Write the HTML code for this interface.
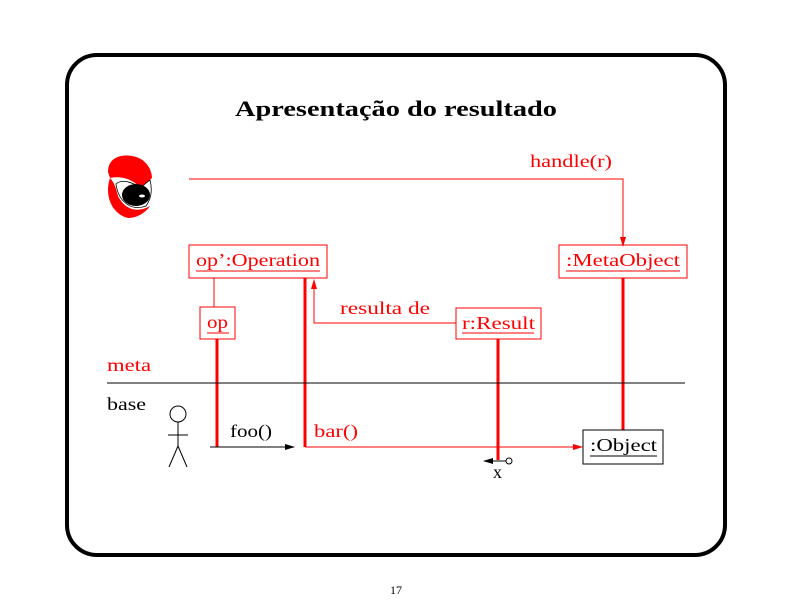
<!DOCTYPE html>
<html><head><style>html,body{margin:0;padding:0;background:#fff}svg{display:block}</style></head><body>
<svg width="792" height="612" viewBox="0 0 792 612" xmlns="http://www.w3.org/2000/svg" font-family="Liberation Serif, serif">
<defs>
<marker id="ar" markerWidth="10" markerHeight="6" refX="9" refY="3" orient="auto" markerUnits="userSpaceOnUse"><path d="M0,0L10,3L0,6z" fill="red"/></marker>
<marker id="ab" markerWidth="10" markerHeight="6" refX="9" refY="3" orient="auto" markerUnits="userSpaceOnUse"><path d="M0,0L10,3L0,6z" fill="#000"/></marker>
</defs>
<rect x="67" y="55" width="658" height="500" rx="30" fill="none" stroke="#000" stroke-width="4"/>
<text x="235" y="116" font-size="22" font-weight="bold" textLength="322" lengthAdjust="spacingAndGlyphs">Apresentação do resultado</text>
<!-- eye icon -->
<path d="M108,172 C108,158 120,154 132,156 C146,158 152,170 152,178 L140,188 C132,178 120,176 110,178 Z" fill="red"/>
<path d="M110,178 C104,196 112,214 128,218 C138,218 146,212 150,206 C140,212 126,212 118,196 C116,188 114,182 110,178Z" fill="red"/>
<path d="M116,184 C118,200 130,212 146,206 C152,198 152,188 150,180 L140,188 C130,180 120,180 116,184Z" fill="#fff" stroke="#000" stroke-width="0.8"/>
<ellipse cx="136" cy="195" rx="14" ry="11" fill="#000"/>
<ellipse cx="142" cy="196" rx="3" ry="1.5" fill="#fff"/>
<!-- handle -->
<text x="530" y="167" fill="red" font-size="18" textLength="82" lengthAdjust="spacingAndGlyphs">handle(r)</text>
<polyline points="189,179 623,179 623,246" fill="none" stroke="red" stroke-width="1" marker-end="url(#ar)"/>
<!-- boxes -->
<g fill="none" stroke="red" stroke-width="1">
<rect x="189" y="245" width="138" height="33"/>
<rect x="559" y="245" width="128" height="33"/>
<rect x="200" y="307" width="35" height="32"/>
<rect x="456" y="308" width="85" height="31"/>
<line x1="214" y1="278" x2="214" y2="307"/>
<polyline points="456,323 314,323 314,280" marker-end="url(#ar)"/>
</g>
<g fill="red" font-size="18" lengthAdjust="spacingAndGlyphs">
<text x="196" y="266" textLength="124" lengthAdjust="spacingAndGlyphs">op’:Operation</text>
<text x="566" y="266" textLength="114" lengthAdjust="spacingAndGlyphs">:MetaObject</text>
<text x="207" y="328" textLength="21" lengthAdjust="spacingAndGlyphs">op</text>
<text x="462" y="329" textLength="73" lengthAdjust="spacingAndGlyphs">r:Result</text>
</g>
<g stroke="red" stroke-width="1">
<line x1="196" y1="271" x2="320" y2="271"/><line x1="566" y1="271" x2="680" y2="271"/>
<line x1="207" y1="333" x2="229" y2="333"/><line x1="462" y1="333" x2="534" y2="333"/>
</g>
<text x="340" y="314" fill="red" font-size="18" textLength="90" lengthAdjust="spacingAndGlyphs">resulta de</text>
<!-- lifelines -->
<g stroke="red" stroke-width="3">
<line x1="217" y1="339" x2="217" y2="447"/>
<line x1="305" y1="278" x2="305" y2="447"/>
<line x1="498" y1="339" x2="498" y2="460"/>
<line x1="623" y1="278" x2="623" y2="430"/>
</g>
<text x="107" y="371" fill="red" font-size="18" textLength="44" lengthAdjust="spacingAndGlyphs">meta</text>
<line x1="107" y1="383" x2="685" y2="383" stroke="#000" stroke-width="1"/>
<text x="107" y="410" font-size="18" textLength="39" lengthAdjust="spacingAndGlyphs">base</text>
<!-- stick figure -->
<g stroke="#000" stroke-width="1" fill="none">
<circle cx="178" cy="414" r="8"/>
<line x1="178" y1="422" x2="178" y2="446"/>
<line x1="168" y1="435" x2="188" y2="435"/>
<line x1="178" y1="446" x2="169" y2="467"/>
<line x1="178" y1="446" x2="187" y2="467"/>
</g>
<line x1="210" y1="447" x2="294" y2="447" stroke="#000" stroke-width="1" marker-end="url(#ab)"/>
<text x="230" y="437" font-size="18" textLength="42" lengthAdjust="spacingAndGlyphs">foo()</text>
<text x="314" y="437" fill="red" font-size="18" textLength="44" lengthAdjust="spacingAndGlyphs">bar()</text>
<line x1="305" y1="447" x2="582" y2="447" stroke="red" stroke-width="1" marker-end="url(#ar)"/>
<rect x="583" y="430" width="80" height="34" fill="none" stroke="#000" stroke-width="1"/>
<text x="590" y="451" font-size="18" textLength="67" lengthAdjust="spacingAndGlyphs">:Object</text>
<line x1="590" y1="456" x2="657" y2="456" stroke="#000"/>
<circle cx="509" cy="461" r="3" fill="#fff" stroke="#000"/>
<line x1="506" y1="461" x2="484" y2="461" stroke="#000" marker-end="url(#ab)"/>
<text x="493" y="478" font-size="18">x</text>
<text x="396" y="594" text-anchor="middle" font-size="12">17</text>
</svg>
</body></html>
